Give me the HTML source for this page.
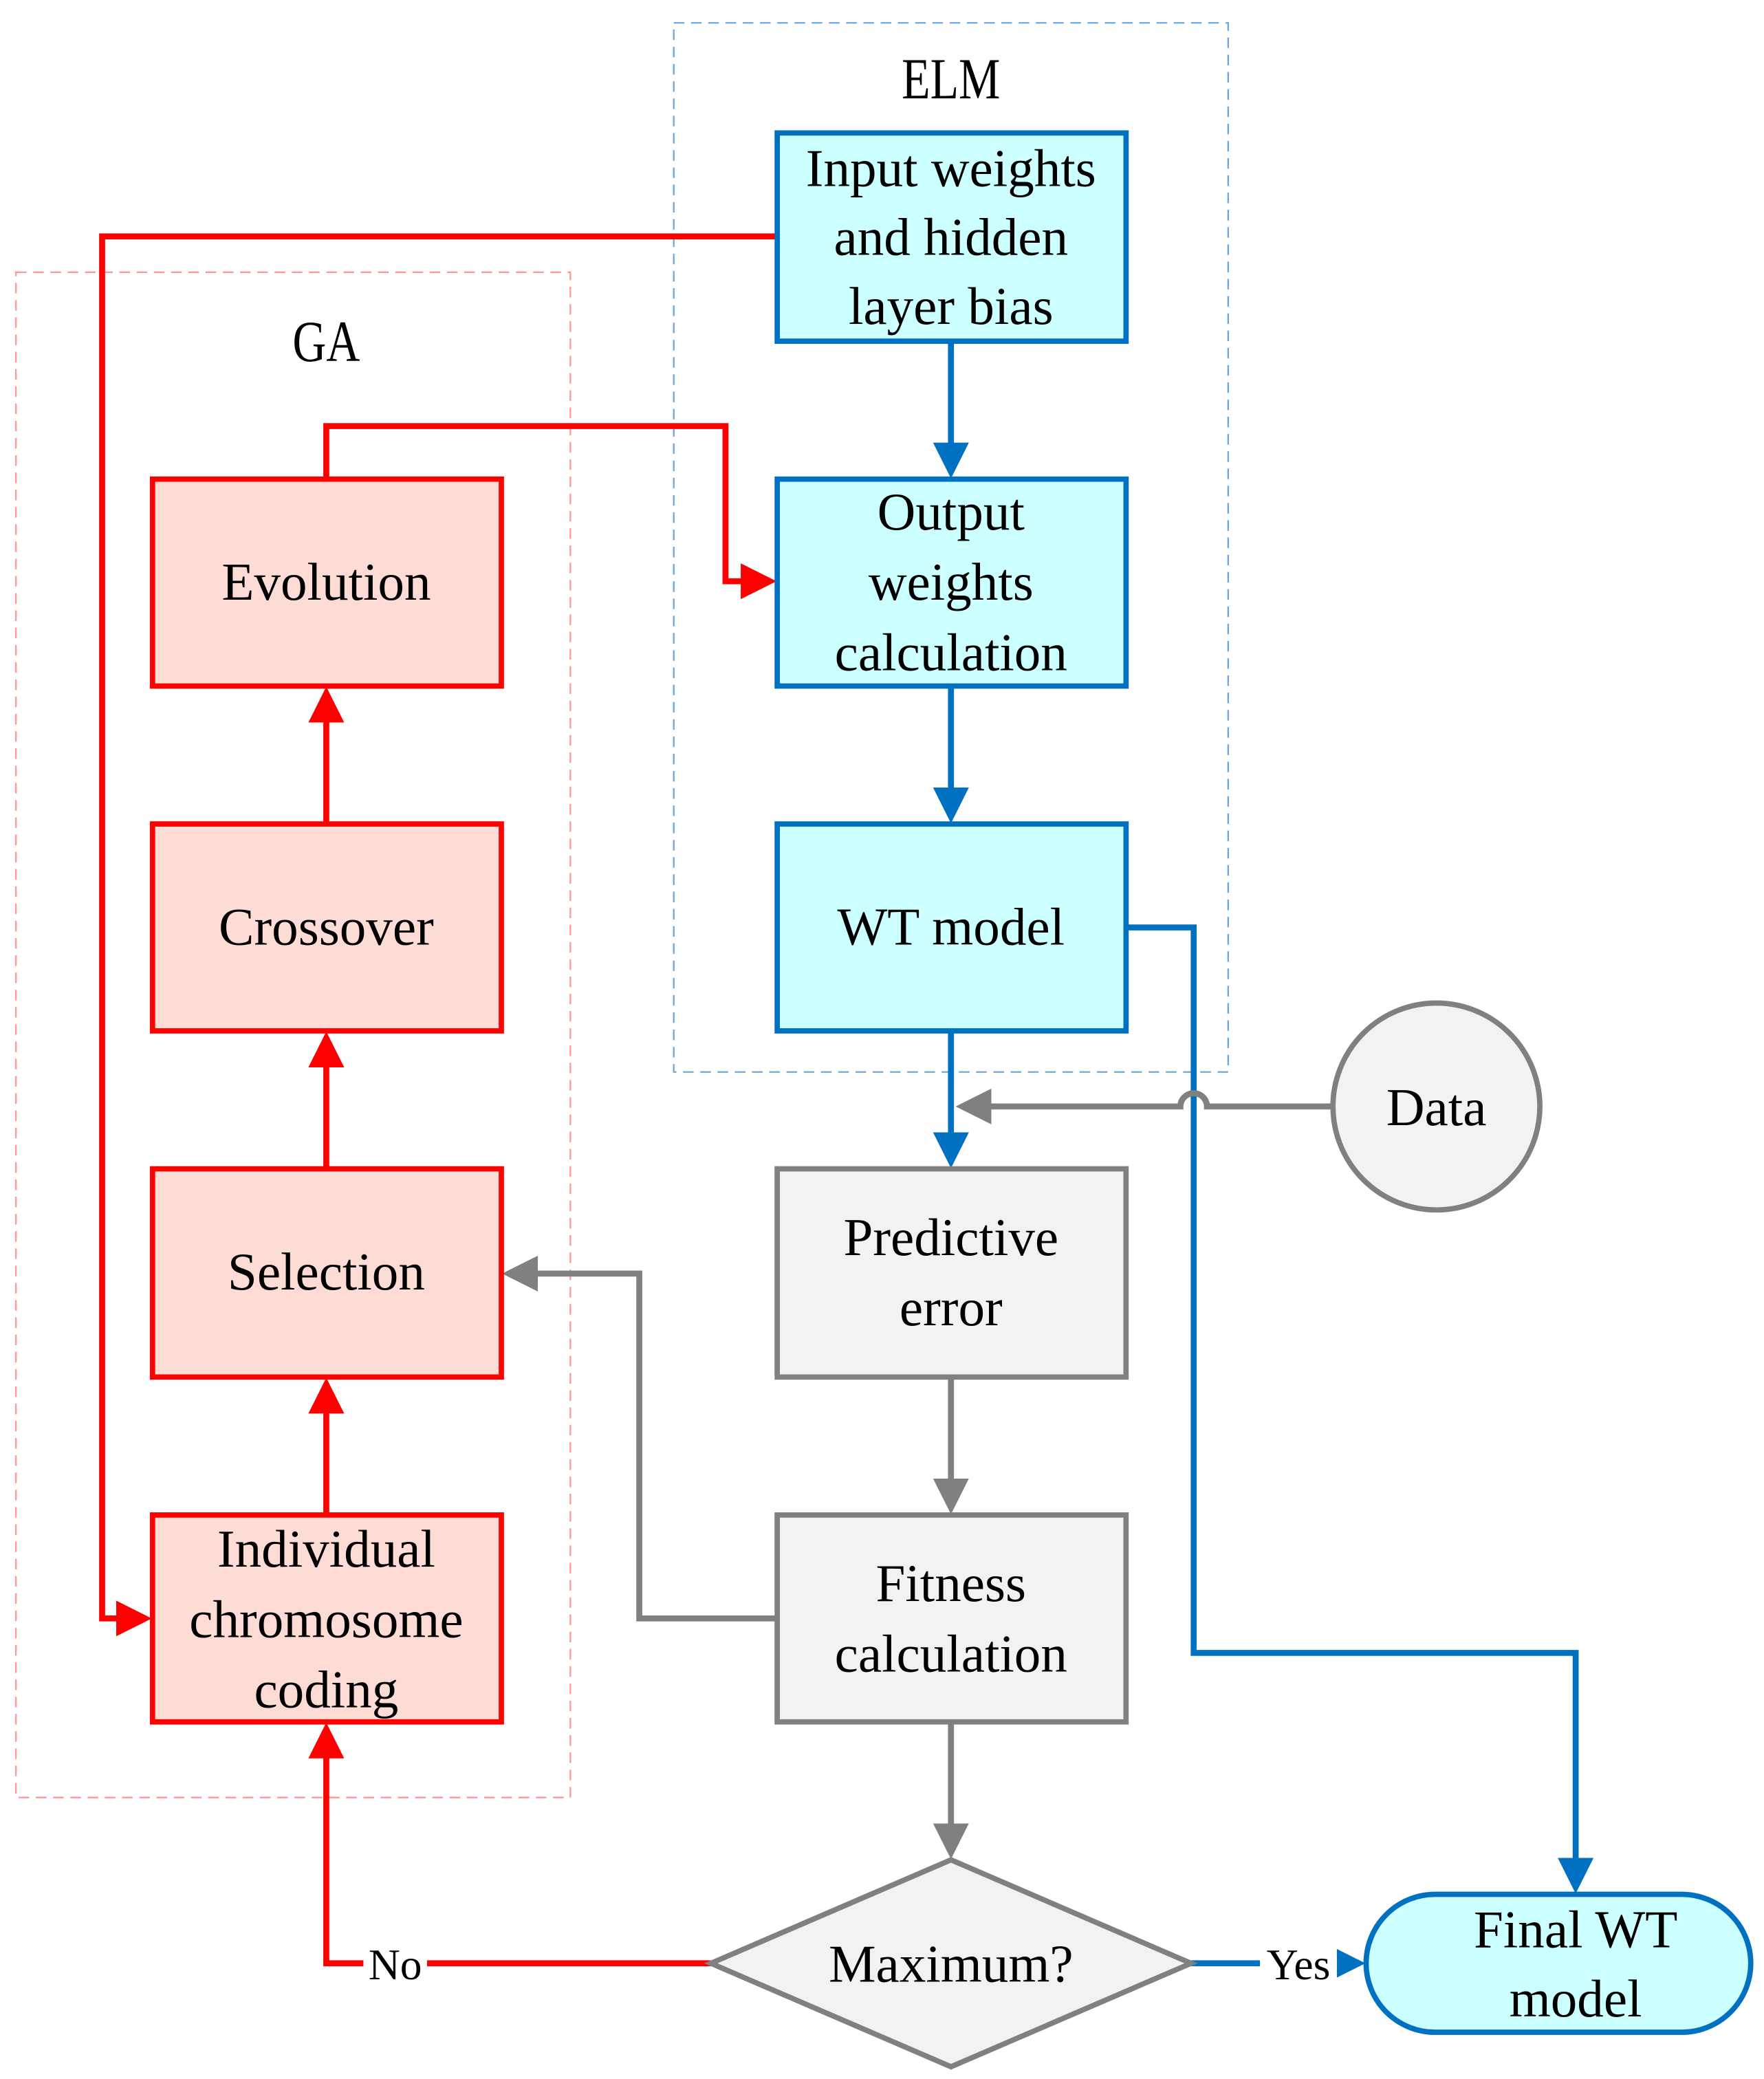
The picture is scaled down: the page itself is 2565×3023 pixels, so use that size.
<!DOCTYPE html>
<html><head><meta charset="utf-8"><style>
html,body{margin:0;padding:0;background:#fff;}
svg{display:block;}
text{font-family:"Liberation Serif",serif;font-size:40px;fill:#000;text-anchor:middle;}
.lab{font-family:"Liberation Serif",serif;font-size:44px;}
</style></head><body>
<svg width="2565" height="3023" viewBox="0 0 1330 1567" xmlns="http://www.w3.org/2000/svg">
<defs>
<marker id="ar" markerWidth="6" markerHeight="6" refX="5" refY="3" orient="auto" markerUnits="strokeWidth"><path d="M0,0 L6,3 L0,6 z" fill="#ff0000"/></marker>
<marker id="ab" markerWidth="6" markerHeight="6" refX="5" refY="3" orient="auto" markerUnits="strokeWidth"><path d="M0,0 L6,3 L0,6 z" fill="#0070c0"/></marker>
<marker id="ag" markerWidth="6" markerHeight="6" refX="5" refY="3" orient="auto" markerUnits="strokeWidth"><path d="M0,0 L6,3 L0,6 z" fill="#808080"/></marker>
</defs>
<rect x="12" y="205" width="418" height="1150" fill="none" stroke="#ff9999" stroke-width="1.2" stroke-dasharray="8,5"/>
<rect x="508" y="17" width="418" height="791" fill="none" stroke="#6fa8dc" stroke-width="1.2" stroke-dasharray="8,5"/>
<text class="lab" x="717" y="74" transform="translate(717,0) scale(0.8,1) translate(-717,0)">ELM</text>
<text class="lab" x="246" y="272" transform="translate(246,0) scale(0.8,1) translate(-246,0)">GA</text>

<g fill="none" stroke-width="4.5">
<polyline points="586,178 77,178 77,1220 110,1220" stroke="#ff0000" marker-end="url(#ar)"/>
<polyline points="246,361 246,321 547,321 547,438 581,438" stroke="#ff0000" marker-end="url(#ar)"/>
<line x1="246" y1="621" x2="246" y2="522" stroke="#ff0000" marker-end="url(#ar)"/>
<line x1="246" y1="881" x2="246" y2="782" stroke="#ff0000" marker-end="url(#ar)"/>
<line x1="246" y1="1142" x2="246" y2="1043" stroke="#ff0000" marker-end="url(#ar)"/>
<polyline points="536,1480 246,1480 246,1303" stroke="#ff0000" marker-end="url(#ar)"/>
<line x1="717" y1="257" x2="717" y2="356" stroke="#0070c0" marker-end="url(#ab)"/>
<line x1="717" y1="517" x2="717" y2="616" stroke="#0070c0" marker-end="url(#ab)"/>
<line x1="717" y1="777" x2="717" y2="876" stroke="#0070c0" marker-end="url(#ab)"/>
<polyline points="849,699 900,699 900,1246 1188,1246 1188,1423" stroke="#0070c0" marker-end="url(#ab)"/>
<line x1="898" y1="1480" x2="1025" y2="1480" stroke="#0070c0" marker-end="url(#ab)"/>
<path d="M1005,834 L910,834 A10,10 0 0 0 890,834 L725,834" stroke="#808080" marker-end="url(#ag)"/>
<line x1="717" y1="1038" x2="717" y2="1137" stroke="#808080" marker-end="url(#ag)"/>
<line x1="717" y1="1298" x2="717" y2="1397" stroke="#808080" marker-end="url(#ag)"/>
<polyline points="586,1220 482,1220 482,960 383,960" stroke="#808080" marker-end="url(#ag)"/>
</g>
<rect x="274" y="1462" width="48" height="36" fill="#fff"/>
<text x="298" y="1492" style="font-size:33px">No</text>
<rect x="950" y="1462" width="58" height="36" fill="#fff"/>
<text x="979" y="1492" style="font-size:33px">Yes</text>

<g stroke="#0070c0" stroke-width="4" fill="#ccffff">
<rect x="586" y="100" width="263" height="157"/>
<rect x="586" y="361" width="263" height="156"/>
<rect x="586" y="621" width="263" height="156"/>
<rect x="1030" y="1428" width="290" height="104" rx="52"/>
</g>
<g stroke="#ff0000" stroke-width="4" fill="#fcdcd5">
<rect x="115" y="361" width="263" height="156"/>
<rect x="115" y="621" width="263" height="156"/>
<rect x="115" y="881" width="263" height="157"/>
<rect x="115" y="1142" width="263" height="156"/>
</g>
<g stroke="#808080" stroke-width="4" fill="#f2f2f2">
<rect x="586" y="881" width="263" height="157"/>
<rect x="586" y="1142" width="263" height="156"/>
<polygon points="536,1480 717,1402 898,1480 717,1558"/>
<circle cx="1083" cy="834" r="78"/>
</g>

<text x="717" y="140">Input weights</text>
<text x="717" y="192">and hidden</text>
<text x="717" y="244">layer bias</text>
<text x="717" y="399">Output</text>
<text x="717" y="452">weights</text>
<text x="717" y="505">calculation</text>
<text x="717" y="712">WT model</text>
<text x="717" y="946">Predictive</text>
<text x="717" y="999">error</text>
<text x="717" y="1207">Fitness</text>
<text x="717" y="1260">calculation</text>
<text x="717" y="1494">Maximum?</text>
<text x="1188" y="1468">Final WT</text>
<text x="1188" y="1520">model</text>
<text x="1083" y="848">Data</text>
<text x="246" y="452">Evolution</text>
<text x="246" y="712">Crossover</text>
<text x="246" y="972">Selection</text>
<text x="246" y="1181">Individual</text>
<text x="246" y="1234">chromosome</text>
<text x="246" y="1287">coding</text>
</svg>
</body></html>
